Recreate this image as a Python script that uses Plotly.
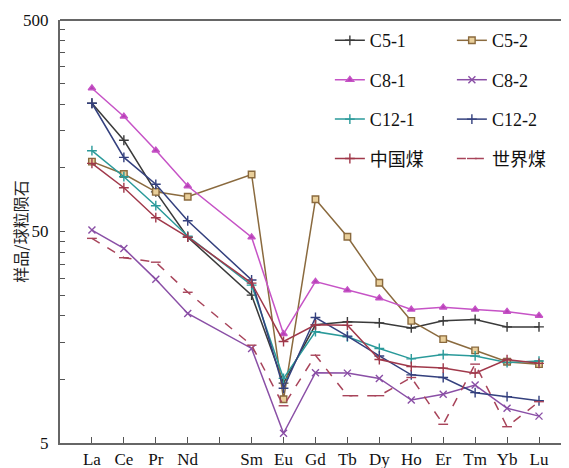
import plotly.graph_objects as go

# ---- data ----
axis_categories = ["La", "Ce", "Pr", "Nd", "Pm", "Sm", "Eu", "Gd", "Tb", "Dy", "Ho", "Er", "Tm", "Yb", "Lu"]
axis_labels = ["La", "Ce", "Pr", "Nd", "", "Sm", "Eu", "Gd", "Tb", "Dy", "Ho", "Er", "Tm", "Yb", "Lu"]
elements = ["La", "Ce", "Pr", "Nd", "Sm", "Eu", "Gd", "Tb", "Dy", "Ho", "Er", "Tm", "Yb", "Lu"]

c5_1 = [202, 135, 77, 47, 25, 9.6, 18.1, 18.7, 18.5, 17.5, 18.9, 19.2, 17.7, 17.7]
c5_2 = [107, 93.5, 77, 73, 93, 8.05, 71, 47.2, 28.6, 18.9, 15.5, 13.7, 12.1, 11.8]
c8_1 = [238, 175, 121, 82, 47, 16.4, 29, 26.4, 24.2, 21.4, 21.9, 21.4, 20.9, 20.0]
c8_2 = [50.8, 41.6, 29.7, 20.5, 14.0, 5.56, 10.75, 10.7, 10.1, 7.98, 8.5, 9.4, 7.3, 6.7]
c12_1 = [120.5, 90.8, 66.2, 47.5, 27.9, 10.1, 16.8, 15.9, 14.0, 12.5, 13.1, 12.9, 12.0, 12.2]
c12_2 = [202, 112, 83.6, 56.2, 29.5, 9.07, 19.6, 16.0, 12.9, 10.5, 10.2, 8.65, 8.28, 7.92]
china_coal = [105, 80.5, 58.1, 47, 28.5, 15.1, 18.1, 18.0, 12.4, 11.5, 11.3, 10.7, 12.4, 11.9]
world_coal = [46.4, 37.6, 35.8, 25.8, 14.5, 7.5, 13.0, 8.37, 8.37, 10.2, 6.13, 11.8, 5.97, 7.84]

y_tickvals = [5, 10, 15, 20, 25, 30, 35, 40, 45, 50, 100, 150, 200, 250, 300, 350, 400, 450, 500]
y_ticktext = ["5"] + [""] * 8 + ["50"] + [""] * 8 + ["500"]

series = [
    # name, values, color, symbol, marker fill, dash, legend
    ("C5-1", c5_1, "#3a3a3a", "cross-thin", "#3a3a3a", "solid", "legend"),
    ("C5-2", c5_2, "#8a6a3e", "square", "#e9cf9a", "solid", "legend2"),
    ("C8-1", c8_1, "#c653c6", "triangle-up", "#b63fb6", "solid", "legend"),
    ("C8-2", c8_2, "#8a4fa6", "x-thin", "#8a4fa6", "solid", "legend2"),
    ("C12-1", c12_1, "#2a9a9a", "cross-thin", "#2a9a9a", "solid", "legend"),
    ("C12-2", c12_2, "#34407e", "cross-thin", "#34407e", "solid", "legend2"),
    ("中国煤", china_coal, "#a0384a", "cross-thin", "#a0384a", "solid", "legend"),
    ("世界煤", world_coal, "#a8445a", "line-ew", "#a8445a", "dash", "legend2"),
]

fig = go.Figure()
for i, (name, vals, color, sym, fill, dash, leg) in enumerate(series):
    fig.add_trace(go.Scatter(
        x=elements, y=vals, name=name, mode="lines+markers",
        line=dict(color=color, width=1.5, dash=dash),
        marker=dict(symbol=sym, size=7 if sym not in ("triangle-up", "square") else 6.5,
                    color=fill, line=dict(color=color, width=1.4)),
        legend=leg, legendgroup=f"g{i}",
    ))

font_serif = "Liberation Serif, Noto Sans CJK SC, serif"
leg_font = dict(family=font_serif, size=18, color="#111")

fig.update_layout(
    width=569, height=468,
    margin=dict(l=52, r=0, t=12, b=33),
    paper_bgcolor="white", plot_bgcolor="white",
    font=dict(family=font_serif, size=17, color="#111"),
    showlegend=True,
    legend=dict(x=0.522, y=0.995, xanchor="left", yanchor="top",
                bgcolor="rgba(0,0,0,0)", font=leg_font,
                tracegroupgap=13, itemwidth=30),
    legend2=dict(x=0.758, y=0.995, xanchor="left", yanchor="top",
                 bgcolor="rgba(0,0,0,0)", font=leg_font,
                 tracegroupgap=13, itemwidth=30),
    xaxis=dict(type="category", categoryorder="array", categoryarray=axis_categories,
               tickvals=axis_categories, ticktext=axis_labels,
               range=[-1, 15.19], ticks="inside", ticklen=6, tickwidth=1.2,
               tickcolor="#555", showline=True, linecolor="#666", linewidth=2,
               mirror=False, showgrid=False, zeroline=False,
               tickfont=dict(family=font_serif, size=17, color="#111")),
    yaxis=dict(type="log", range=[0.69897, 2.69897],
               tickvals=y_tickvals, ticktext=y_ticktext,
               ticks="inside", ticklen=5, tickwidth=1.2, tickcolor="#555",
               showline=True, linecolor="#666", linewidth=2, showgrid=False,
               zeroline=False, ticklabelstandoff=6,
               tickfont=dict(family=font_serif, size=17, color="#111"),
               title=dict(text="样品/球粒陨石", standoff=2,
                          font=dict(family="Noto Sans CJK SC", size=16, color="#222"))),
)

# top border line
fig.add_shape(type="line", xref="paper", yref="paper", x0=0, x1=1, y0=1, y1=1,
              line=dict(color="#666", width=2))

fig.write_html("out.html")
